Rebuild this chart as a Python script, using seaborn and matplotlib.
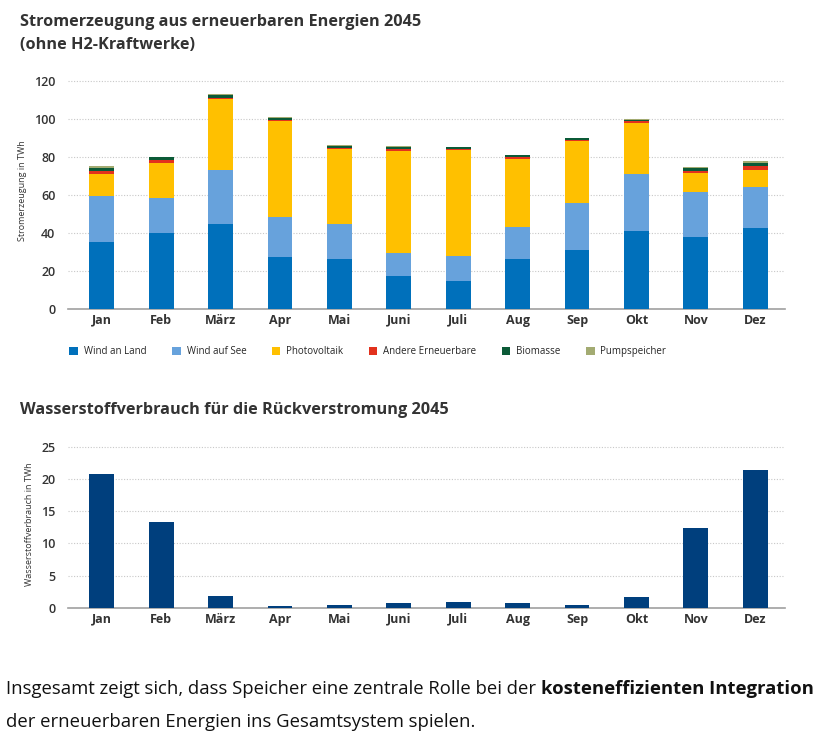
import numpy as np
import pandas as pd
import seaborn as sns
import matplotlib.pyplot as plt
from matplotlib.patches import Patch

# %% data
monate = ['Jan', 'Feb', 'März', 'Apr', 'Mai', 'Juni', 'Juli', 'Aug', 'Sep', 'Okt', 'Nov', 'Dez']

wind_land = [35.4, 39.8, 44.5, 27.6, 26.2, 17.5, 14.5, 26.4, 31.1, 41.2, 38.0, 42.6]
wind_see = [23.9, 18.5, 28.8, 20.9, 18.3, 12.2, 13.6, 16.5, 24.7, 29.7, 23.4, 21.6]
photovoltaik = [11.9, 18.7, 37.2, 50.6, 39.8, 53.7, 55.7, 36.0, 32.5, 27.0, 10.2, 9.1]
andere = [1.2, 1.5, 0.8, 0.5, 0.5, 0.7, 0.5, 1.0, 0.7, 0.9, 1.0, 1.7]
biomasse = [1.9, 1.4, 1.3, 0.9, 1.1, 1.2, 0.9, 1.1, 0.9, 0.9, 1.6, 2.0]
pumpspeicher = [0.7, 0.3, 0.3, 0.4, 0.3, 0.6, 0.3, 0.3, 0.3, 0.3, 0.7, 0.8]

wasserstoff = [20.8, 13.4, 1.8, 0.3, 0.4, 0.7, 0.9, 0.8, 0.4, 1.7, 12.4, 21.4]

quellen = ['Wind an Land', 'Wind auf See', 'Photovoltaik', 'Andere Erneuerbare', 'Biomasse', 'Pumpspeicher']
farben = ['#0070bb', '#67a2dc', '#ffc000', '#e2311d', '#0b5a37', '#a3ab72']

# %% dataframe
df = pd.DataFrame({'monat': monate, 'Wind an Land': wind_land, 'Wind auf See': wind_see,
                   'Photovoltaik': photovoltaik, 'Andere Erneuerbare': andere,
                   'Biomasse': biomasse, 'Pumpspeicher': pumpspeicher})
kumuliert = df[quellen].cumsum(axis=1)
kumuliert['monat'] = monate
df_h2 = pd.DataFrame({'monat': monate, 'wert': wasserstoff})

# %% plot
sns.set_style('white')
plt.rcParams['font.family'] = ['Open Sans', 'DejaVu Sans']
fig = plt.figure(figsize=(8.28, 7.5), dpi=100)

ax1 = fig.add_axes([0.082, 0.588, 0.866, 0.3167])
ax2 = fig.add_axes([0.082, 0.1897, 0.866, 0.2227])

# gestapelte balken: groesste summe zuerst, dann darueber die kleineren
for col, farbe in reversed(list(zip(quellen, farben))):
    sns.barplot(x='monat', y=col, data=kumuliert, color=farbe, width=0.42,
                saturation=1, linewidth=0, edgecolor='none', ax=ax1, zorder=3)

sns.barplot(x='monat', y='wert', data=df_h2, color='#003f7d', width=0.42,
            saturation=1, linewidth=0, edgecolor='none', ax=ax2, zorder=3)

for ax, ymax, ticks in [(ax1, 125, np.arange(0, 121, 20)), (ax2, 26, np.arange(0, 26, 5))]:
    ax.set_ylim(0, ymax)
    ax.set_xlim(-0.57, 11.5)
    ax.set_yticks(ticks)
    ax.yaxis.grid(True, linestyle=(0, (1, 1.5)), color='#c8c8c8', linewidth=0.8, zorder=0)
    ax.set_axisbelow(True)
    for s in ['top', 'right', 'left']:
        ax.spines[s].set_visible(False)
    ax.spines['bottom'].set_color('#a0a0a0')
    ax.spines['bottom'].set_linewidth(1.2)
    ax.spines['bottom'].set_zorder(2)
    ax.tick_params(axis='both', length=0, labelsize=9, colors='#333333')
    ax.tick_params(axis='y', pad=9)
    ax.set_xlabel('')
    for lab in ax.get_xticklabels():
        lab.set_fontweight('bold')
    for lab in ax.get_yticklabels():
        lab.set_fontweight('semibold')

ax1.set_ylabel('Stromerzeugung in TWh', fontsize=6.5, color='#333333', labelpad=5)
ax2.set_ylabel('Wasserstoffverbrauch in TWh', fontsize=6.5, color='#333333', labelpad=5)

handles = [Patch(facecolor=f, edgecolor='none') for f in farben]
ax1.legend(handles, quellen, ncol=6, loc='upper left', bbox_to_anchor=(-0.01, -0.12),
           frameon=False, fontsize=7, handlelength=0.9, handleheight=0.9,
           handletextpad=0.6, columnspacing=2.6)

# titel
fig.text(0.024, 0.971, 'Stromerzeugung aus erneuerbaren Energien 2045', fontsize=11.7,
         fontweight='bold', color='#333333', va='center')
fig.text(0.024, 0.940, '(ohne H2-Kraftwerke)', fontsize=11.7, fontweight='bold',
         color='#333333', va='center')
fig.text(0.024, 0.453, 'Wasserstoffverbrauch für die Rückverstromung 2045', fontsize=11.7,
         fontweight='bold', color='#333333', va='center')

# fliesstext unten mit fett gesetztem teil
t1 = fig.text(0.007, 0.081, 'Insgesamt zeigt sich, dass Speicher eine zentrale Rolle bei der ',
              fontsize=13.3, color='#111111', va='center')
fig.canvas.draw()
bb = t1.get_window_extent().transformed(fig.transFigure.inverted())
fig.text(bb.x1, 0.081, 'kosteneffizienten Integration', fontsize=13.3, fontweight='bold',
         color='#111111', va='center')
fig.text(0.007, 0.037, 'der erneuerbaren Energien ins Gesamtsystem spielen.',
         fontsize=13.3, color='#111111', va='center')

plt.savefig('out.png', dpi=100)
